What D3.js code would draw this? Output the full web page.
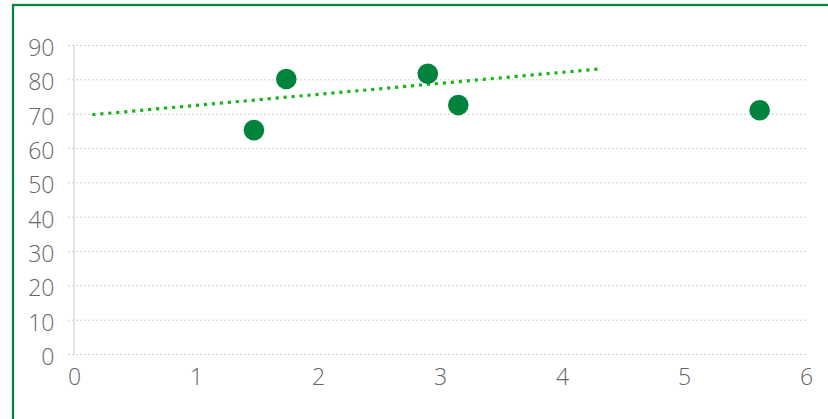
<!DOCTYPE html>
<html>
<head>
<meta charset="utf-8">
<script src="https://cdn.jsdelivr.net/npm/d3@7"></script>
<style>
body{margin:0;background:#fff;}
svg{display:block;}
.tick text{font-family:"Open Sans",sans-serif;font-weight:300;fill:#666;}
</style>
</head>
<body>
<svg></svg>
<script>
var width = 828;
var height = 419;
// scatter values
var xs = [1.475, 1.74, 2.9, 3.15, 5.62];
var ys = [65.2, 80.1, 81.6, 72.5, 71.0];
// trend line end points
var trendX = [0.15, 4.3];
var trendY = [69.7, 83.0];
var xTicks = [0, 1, 2, 3, 4, 5, 6];
var yTicks = [0, 10, 20, 30, 40, 50, 60, 70, 80, 90];

var margin = {left: 74, right: 22, top: 45, bottom: 65};

var svg = d3.select("svg").attr("width", width).attr("height", height);

// chart frame, runs past the right and bottom edges
svg.append("rect")
	.attr("x", 13).attr("y", 5)
	.attr("width", width + 20).attr("height", height + 20)
	.style("fill", "none")
	.style("stroke", "#00843d")
	.style("stroke-width", 2.2);

var x = d3.scaleLinear().domain([0, 6]).range([margin.left, width - margin.right]);
var y = d3.scaleLinear().domain([0, 90]).range([height - margin.bottom, margin.top]);

// grid lines
svg.append("g")
	.selectAll("line")
	.data(yTicks)
	.enter().append("line")
	.attr("x1", margin.left - 6)
	.attr("x2", x(6))
	.attr("y1", d => y(d) + 0.5)
	.attr("y2", d => y(d) + 0.5)
	.style("stroke", "#cfcfcf")
	.style("stroke-width", 1)
	.style("stroke-dasharray", "2,2");

// y axis
var yAxis = svg.append("g")
	.attr("transform", "translate(" + (margin.left - 0.5) + ",0)")
	.call(d3.axisLeft(y).tickValues(yTicks).tickSize(0).tickPadding(19));
yAxis.select(".domain").style("stroke", "#c8c8c8");
yAxis.selectAll(".tick text").style("font-size", "23px").attr("dy", "0.45em");

// x axis labels only
var xAxis = svg.append("g")
	.attr("transform", "translate(0," + y(0) + ")")
	.call(d3.axisBottom(x).tickValues(xTicks).tickFormat(d3.format("d")).tickSize(0).tickPadding(15));
xAxis.select(".domain").remove();
xAxis.selectAll(".tick text").style("font-size", "23px");

// trend line
svg.append("line")
	.attr("x1", x(trendX[0])).attr("y1", y(trendY[0]))
	.attr("x2", x(trendX[1])).attr("y2", y(trendY[1]))
	.style("stroke", "#1eb41e")
	.style("stroke-width", 3.2)
	.style("stroke-dasharray", "3.2,4.8");

// points
svg.append("g")
	.selectAll("circle")
	.data(xs)
	.enter().append("circle")
	.attr("cx", (d, i) => x(d))
	.attr("cy", (d, i) => y(ys[i]))
	.attr("r", 10.3)
	.style("fill", "#00843d");
</script>
</body>
</html>
